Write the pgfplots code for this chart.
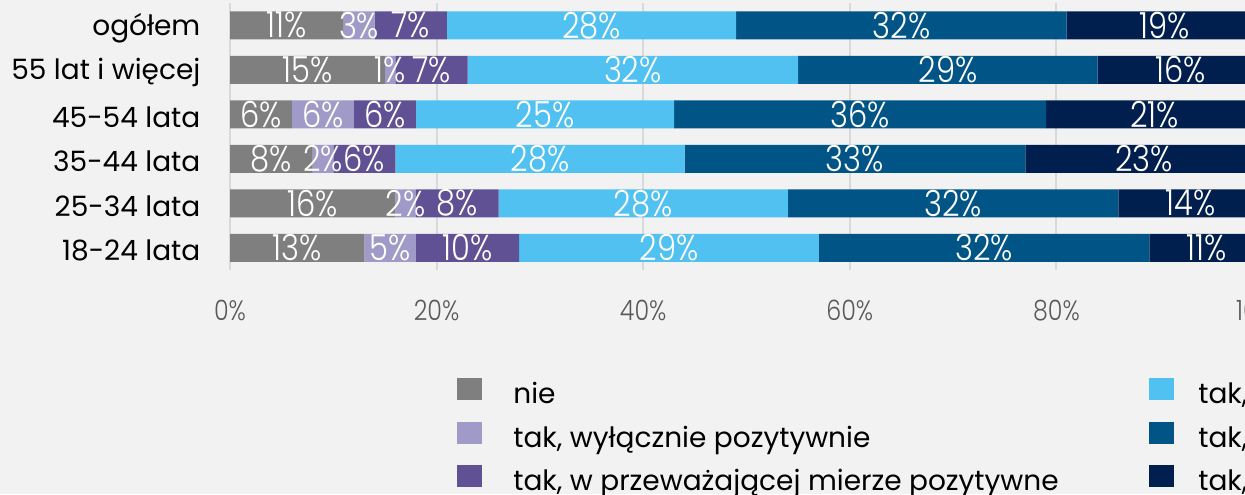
\documentclass[border=0pt]{standalone}
\usepackage{fontspec}
\setmainfont{Poppins}
\IfFontExistsTF{Poppins Light}
  {\newfontfamily\narrowfont[FakeStretch=0.85]{Poppins Light}}
  {\newfontfamily\narrowfont[FakeStretch=0.85]{Poppins}}
\usepackage{pgfplots}
\usepackage{pgfplotstable}
\pgfplotsset{compat=1.18}
\definecolor{bg}{HTML}{F2F2F2}
\definecolor{cNie}{HTML}{7F7F7F}
\definecolor{cWyl}{HTML}{A09AC8}
\definecolor{cPrz}{HTML}{5F5193}
\definecolor{cNeu}{HTML}{50C1F0}
\definecolor{cNeg}{HTML}{005486}
\definecolor{cWneg}{HTML}{001F4E}
\definecolor{gridc}{HTML}{D9D9D9}
\definecolor{tickc}{HTML}{595959}

% segment centres (x), row (y), value (v)
\pgfplotstableread{
x    y v
5.5  5 11
12.5 5 3
17.5 5 7
35   5 28
65   5 32
90.5 5 19
7.5  4 15
15.5 4 1
19.5 4 7
39   4 32
69.5 4 29
92   4 16
3    3 6
9    3 6
15   3 6
30.5 3 25
61   3 36
89.5 3 21
4    2 8
9    2 2
13   2 6
30   2 28
60.5 2 33
88.5 2 23
8    1 16
17   1 2
22   1 8
40   1 28
70   1 32
93   1 14
6.5  0 13
15.5 0 5
23   0 10
42.5 0 29
73   0 32
94.5 0 11
}\labels

\pgfplotsset{frame/.style={
  at={(115pt,112pt)}, anchor=south west,
  scale only axis, width=516.5pt, height=133.5pt,
  xmin=0, xmax=100, ymin=-0.5, ymax=5.5,
  /pgf/number format/assume math mode=true}}

\begin{document}
\begin{tikzpicture}
\path[use as bounding box] (0,0) rectangle (622.5pt,247pt);
\fill[bg] (0,0) rectangle (622.5pt,247pt);
\clip (0,0) rectangle (622.5pt,247pt);
\begin{axis}[
  frame,
  xbar stacked, bar width=14pt,
  xtick={0,20,...,100}, ytick={0,...,5},
  yticklabels={18-24 lata, 25-34 lata, 35-44 lata, 45-54 lata, 55 lat i więcej\hspace{3pt}, ogółem},
  xticklabel={\pgfmathprintnumber{\tick}\%},
  xticklabel style={font=\narrowfont\fontsize{14}{16}\selectfont, text=tickc, yshift=-11.3pt},
  yticklabel style={font=\fontsize{14}{16}\selectfont, text=black, xshift=-11.3pt, yshift=-1.5pt},
  axis line style={draw=none},
  major tick length=0pt,
  xmajorgrids, major grid style={gridc, line width=1pt},
  legend columns=3, transpose legend,
  legend style={at={(0.2197,-0.403)}, anchor=north west, draw=none, fill=none, inner sep=0pt,
    font=\fontsize{14}{16}\selectfont, cells={anchor=west}, row sep=6pt, column sep=15.5pt,
    nodes={inner sep=0pt, text height=10pt, text depth=3pt}},
  legend image code/.code={\fill[#1] (0pt,-1.7pt) rectangle (12.5pt,9.3pt);},
]
\addplot[fill=cNie, draw=none] coordinates {(13,0) (16,1) (8,2) (6,3) (15,4) (11,5)};
\addplot[fill=cWyl, draw=none] coordinates {(5,0) (2,1) (2,2) (6,3) (1,4) (3,5)};
\addplot[fill=cPrz, draw=none] coordinates {(10,0) (8,1) (6,2) (6,3) (7,4) (7,5)};
\addplot[fill=cNeu, draw=none] coordinates {(29,0) (28,1) (28,2) (25,3) (32,4) (28,5)};
\addplot[fill=cNeg, draw=none] coordinates {(32,0) (32,1) (33,2) (36,3) (29,4) (32,5)};
\addplot[fill=cWneg, draw=none] coordinates {(11,0) (14,1) (23,2) (21,3) (16,4) (19,5)};
\legend{\makebox[302.5pt][l]{nie}, \makebox[302.5pt][l]{tak, wyłącznie pozytywnie}, \makebox[302.5pt][l]{tak, w przeważającej mierze pozytywne}, {\hspace{-3.5pt}tak, zarówno pozytywne, jak i negatywne}, {\hspace{-3.5pt}tak, w przeważającej mierze negatywne}, {\hspace{-3.5pt}tak, wyłącznie negatywne}}
\end{axis}
\begin{axis}[frame, hide axis]
\addplot[draw=none, mark=none, point meta=explicit,
  nodes near coords={\pgfmathprintnumber{\pgfplotspointmeta}\%},
  nodes near coords style={anchor=center, inner sep=0pt, font=\narrowfont\fontsize{18}{20}\selectfont, text=white}]
  table[x=x, y=y, meta=v] {\labels};
\end{axis}
\end{tikzpicture}
\end{document}
